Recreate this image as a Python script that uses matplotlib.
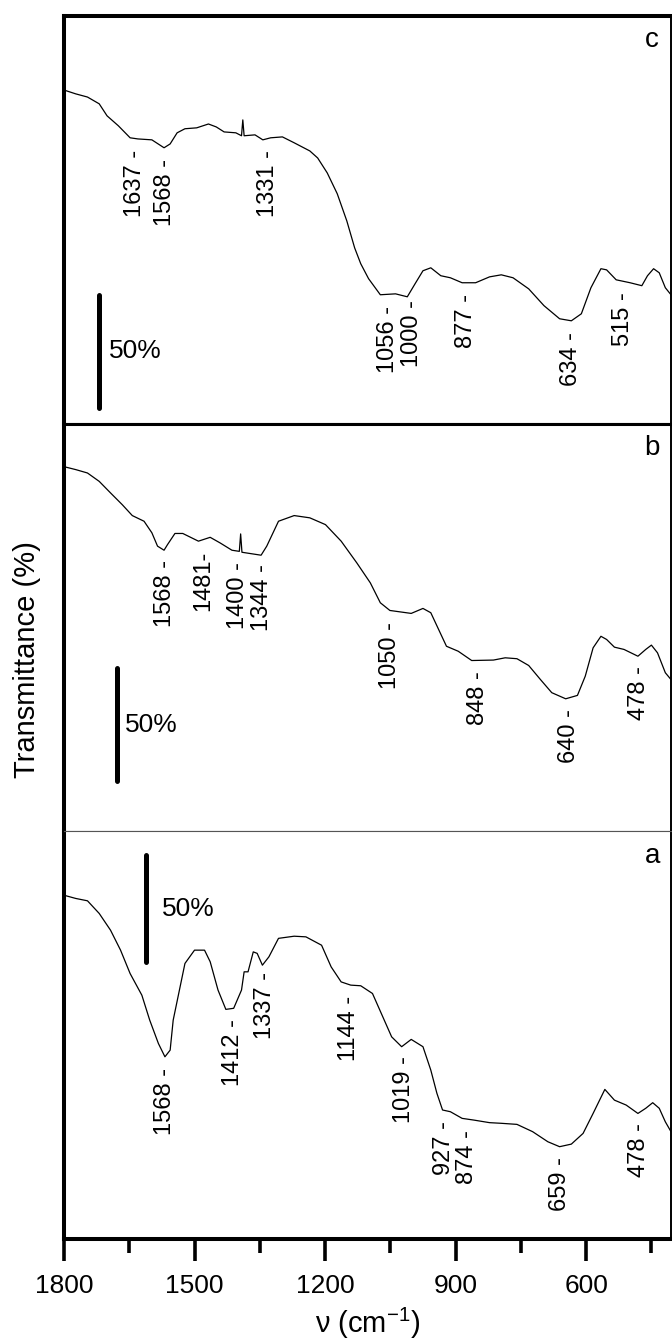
import numpy as np
import matplotlib
matplotlib.use("Agg")
import matplotlib.pyplot as plt
from matplotlib.ticker import MultipleLocator

plt.rcParams["font.family"] = ["Liberation Sans", "DejaVu Sans"]
plt.rcParams["mathtext.default"] = "regular"

# spectrum c (top panel), wavenumber in cm-1, transmittance in % (offset)
NU_C = [1800, 1773, 1746, 1719, 1701, 1675, 1648, 1630, 1598, 1570,
        1556, 1540, 1522, 1495, 1468, 1450, 1432, 1405, 1392, 1389,
        1386, 1361, 1343, 1325, 1298, 1271, 1235, 1217, 1195, 1172,
        1150, 1132, 1118, 1100, 1073, 1038, 1011, 993, 975, 957,
        934, 912, 885, 854, 822, 795, 768, 732, 697, 661,
        634, 611, 589, 566, 553, 531, 499, 472, 459, 445,
        432, 418, 405]
T_C = [147.3, 145.6, 144.2, 141.2, 135.9, 131.5, 126.2, 125.7, 125.3, 121.8,
       123.5, 128.4, 130.2, 130.6, 132.3, 131.0, 128.8, 128.4, 127.1, 134.1,
       127.1, 127.5, 125.3, 126.2, 126.6, 124.0, 120.4, 117.3, 110.7, 101.5,
       89.5, 77.6, 70.6, 64.0, 56.9, 57.3, 56.0, 61.8, 67.5, 68.8,
       65.3, 64.4, 62.2, 62.2, 64.8, 65.7, 64.4, 59.5, 52.1, 46.3,
       45.4, 48.5, 60.0, 68.4, 67.9, 63.5, 62.2, 60.9, 65.3, 68.4,
       66.6, 60.0, 56.9]
PEAKS_C = [1637, 1568, 1331, 1056, 1000, 877, 634, 515]
LABELS_C = ["1637 -", "1568 -", "1331 -", "1056 -", "1000 -", "877 -",
            "634 -", "515 -"]

# spectrum b (middle panel)
NU_B = [1800, 1773, 1746, 1719, 1693, 1666, 1643, 1616, 1598, 1585,
        1570, 1562, 1545, 1527, 1491, 1464, 1441, 1414, 1397, 1394,
        1391, 1347, 1334, 1307, 1271, 1235, 1199, 1163, 1127, 1096,
        1073, 1051, 1002, 975, 957, 939, 921, 894, 863, 813,
        786, 759, 732, 705, 679, 647, 620, 602, 584, 566,
        553, 535, 513, 481, 463, 450, 436, 418, 405]
T_B = [161.0, 159.7, 158.2, 154.5, 149.4, 144.2, 139.4, 136.9, 131.8, 125.9,
       124.1, 126.6, 131.5, 131.5, 128.1, 129.8, 127.3, 124.1, 123.6, 131.3,
       123.2, 121.9, 125.9, 136.9, 139.4, 138.4, 135.4, 128.1, 118.5, 109.7,
       100.9, 97.5, 96.2, 98.4, 96.5, 89.1, 81.7, 79.5, 75.4, 75.6,
       76.6, 76.2, 73.2, 67.0, 61.2, 58.5, 60.0, 68.5, 81.0, 86.1,
       84.7, 81.3, 80.3, 77.3, 80.3, 82.2, 78.8, 70.0, 67.0]
PEAKS_B = [1568, 1481, 1400, 1344, 1050, 848, 640, 478]
LABELS_B = ["1568 -", "1481-", "1400 -", "1344 -", "1050 -", "848 -",
            "640 -", "478 -"]

# spectrum a (bottom panel)
NU_A = [1800, 1773, 1746, 1719, 1693, 1670, 1648, 1621, 1603, 1583,
        1568, 1556, 1549, 1522, 1500, 1477, 1464, 1446, 1428, 1410,
        1392, 1386, 1377, 1365, 1356, 1344, 1329, 1307, 1271, 1244,
        1208, 1186, 1163, 1141, 1118, 1091, 1064, 1047, 1024, 1002,
        975, 957, 943, 930, 912, 885, 858, 822, 795, 759,
        723, 688, 661, 634, 607, 584, 557, 535, 508, 481,
        463, 447, 432, 418, 405]
T_A = [160.2, 158.7, 157.6, 151.7, 143.9, 134.6, 123.7, 113.6, 102.0, 91.1,
       84.9, 88.0, 102.0, 128.4, 134.6, 134.6, 129.2, 116.0, 107.0, 107.5,
       116.0, 124.5, 124.5, 133.8, 133.1, 127.6, 131.5, 140.1, 141.1, 140.8,
       136.9, 126.8, 119.8, 118.3, 118.0, 114.4, 102.0, 94.2, 89.6, 93.0,
       89.6, 78.7, 67.9, 60.1, 59.3, 56.2, 55.4, 54.2, 53.9, 53.4,
       50.0, 45.3, 43.0, 44.2, 49.2, 58.5, 69.7, 64.7, 62.4, 58.5,
       60.9, 63.5, 60.9, 54.6, 50.0]
PEAKS_A = [1568, 1412, 1337, 1144, 1019, 927, 874, 659, 478]
LABELS_A = ["1568 -", "1412 -", "1337 -", "1144 -", "1019 -", "927 -",
            "874 -", "659 -", "478 -"]

# panel: (name, nu, T, peaks, labels, ymax, 50% bar x, bar bottom, text x)
panels = [
    ("c", NU_C, T_C, PEAKS_C, LABELS_C, 180, 1719, 7, 1697),
    ("b", NU_B, T_B, PEAKS_B, LABELS_B, 180, 1679, 22, 1660),
    ("a", NU_A, T_A, PEAKS_A, LABELS_A, 190, 1612, 129, 1574),
]

fig, axes = plt.subplots(3, 1, figsize=(6.72, 13.41), dpi=100, sharex=True)
fig.subplots_adjust(left=0.0952, right=0.9985, top=0.9881, bottom=0.0761,
                    hspace=0)

for ax, (name, nu, t, peaks, labels, ymax, bx, by, tx) in zip(axes, panels):
    nu = np.array(nu)
    t = np.array(t)
    ax.plot(nu, t, color="black", lw=0.9)
    ax.set_ylim(0, ymax)
    ax.set_yticks([])

    # peak labels hanging below the curve
    order = np.argsort(nu)
    for p, lab in zip(peaks, labels):
        yv = np.interp(p, nu[order], t[order]) - 5
        ax.text(p, yv, lab, rotation=90, ha="center", va="top", fontsize=17)

    # 50 % scale bar
    ax.plot([bx, bx], [by, by + 50], color="black", lw=3.6,
            solid_capstyle="round")
    ax.text(tx, by + 25, "50%", ha="left", va="center", fontsize=19)

    ax.text(0.969, 0.94, name, transform=ax.transAxes, ha="center",
            va="center", fontsize=20)

    for s in ax.spines.values():
        s.set_linewidth(2.9)
    ax.spines["right"].set_linewidth(1.4)
    ax.tick_params(axis="x", which="both", bottom=False, top=False)

axes[0].spines["bottom"].set_linewidth(2.2)
axes[1].spines["top"].set_linewidth(2.2)
axes[1].spines["bottom"].set_linewidth(0.8)
axes[1].spines["bottom"].set_color("#555555")
axes[2].spines["top"].set_linewidth(0.8)
axes[2].spines["top"].set_color("#555555")

ax = axes[2]
ax.set_xlim(1800, 405)
ax.xaxis.set_major_locator(MultipleLocator(300))
ax.xaxis.set_minor_locator(MultipleLocator(150))
ax.tick_params(axis="x", which="major", bottom=True, direction="out",
               length=16, width=2.6, labelsize=19, pad=9)
ax.tick_params(axis="x", which="minor", bottom=True, direction="out",
               length=10, width=2.6)
ax.set_xlabel("\u03bd (cm$^{-1}$)", fontsize=21, labelpad=6)

fig.text(0.040, 0.508, "Transmittance (%)", rotation=90, ha="center",
         va="center", fontsize=21)

plt.savefig("out.png", dpi=100)
